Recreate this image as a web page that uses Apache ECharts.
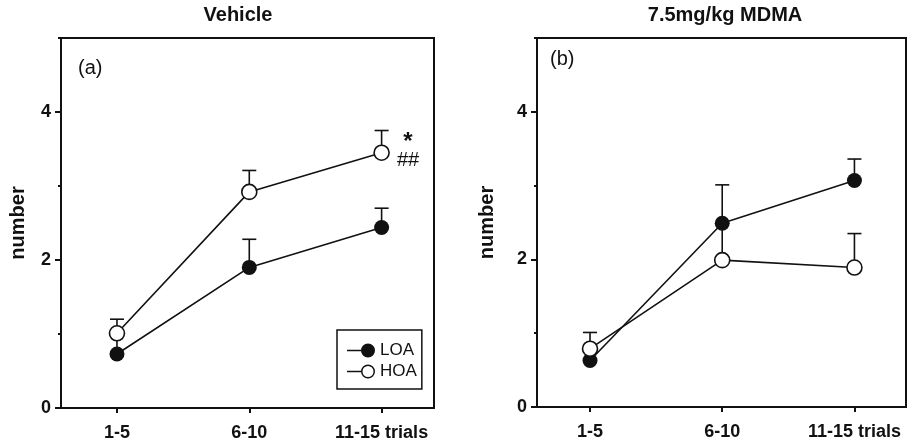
<!DOCTYPE html>
<html><head><meta charset="utf-8">
<script src="https://cdn.jsdelivr.net/npm/echarts@6/dist/echarts.min.js"></script>
<style>html,body{margin:0;padding:0;background:#fff}#c{width:910px;height:444px}</style>
</head><body><div id="c"></div>
<script>
// ---------- data ----------
const categories = ['1-5', '6-10', '11-15 trials'];
const catX = [1, 2, 3];
const panelTitles = ['Vehicle', '7.5mg/kg MDMA'];
const panelTags = ['(a)', '(b)'];
const seriesNames = ['LOA', 'HOA'];
const yMajorTicks = [0, 2, 4];
const yMinorTicks = [1, 3, 5];
const vehicleLOA = [0.73, 1.90, 2.44];
const vehicleLOAErr = [0.28, 0.38, 0.26];
const vehicleHOA = [1.01, 2.92, 3.45];
const vehicleHOAErr = [0.19, 0.29, 0.30];
const mdmaLOA = [0.63, 2.49, 3.07];
const mdmaLOAErr = [0.16, 0.52, 0.29];
const mdmaHOA = [0.79, 1.99, 1.89];
const mdmaHOAErr = [0.22, 0.50, 0.46];
const significance = ['*', '##'];

// ---------- chart ----------
const FONT = '"Liberation Sans", Arial, sans-serif';
const INK = '#111';
function pts(vals) { return vals.map((v, i) => [catX[i], v]); }
function errs(vals, e) { return vals.map((v, i) => [catX[i], v, v + e[i]]); }
function renderErr(params, api) {
  const x = api.value(0), y = api.value(1), t = api.value(2);
  const a = api.coord([x, y]), b = api.coord([x, t]);
  const st = { stroke: INK, lineWidth: 1.6 };
  return { type: 'group', children: [
    { type: 'line', shape: { x1: a[0], y1: a[1], x2: b[0], y2: b[1] }, style: st },
    { type: 'line', shape: { x1: b[0] - 7, y1: b[1], x2: b[0] + 7, y2: b[1] }, style: st }
  ]};
}

const panels = [
  { grid: { left: 61, top: 38, width: 373, height: 370 }, xMin: 0.577, xMax: 3.396, nameGap: 33,
    loa: vehicleLOA, loaErr: vehicleLOAErr, hoa: vehicleHOA, hoaErr: vehicleHOAErr, sig: true },
  { grid: { left: 537, top: 38, width: 369, height: 369 }, xMin: 0.599, xMax: 3.39, nameGap: 40,
    loa: mdmaLOA, loaErr: mdmaLOAErr, hoa: mdmaHOA, hoaErr: mdmaHOAErr, sig: false }
];

const grid = [], xAxis = [], yAxis = [], series = [];
panels.forEach((p, i) => {
  grid.push(Object.assign({ show: true, borderColor: INK, borderWidth: 2, backgroundColor: 'transparent' }, p.grid));
  xAxis.push({
    type: 'value', gridIndex: i, min: p.xMin, max: p.xMax,
    axisLine: { show: true, lineStyle: { color: INK, width: 2 } },
    axisTick: { show: true, customValues: catX, length: 5, lineStyle: { color: INK, width: 2 } },
    axisLabel: { customValues: catX, formatter: v => categories[catX.indexOf(v)], margin: 16,
      fontSize: 18, fontWeight: 'bold', color: INK, fontFamily: FONT },
    splitLine: { show: false }
  });
  yAxis.push({
    type: 'value', gridIndex: i, min: 0, max: 5, interval: 1, position: 'left',
    name: 'number', nameLocation: 'middle', nameGap: p.nameGap,
    nameTextStyle: { fontSize: 20, fontWeight: 'bold', color: INK, fontFamily: FONT },
    axisLine: { show: true, lineStyle: { color: INK, width: 2 } },
    axisTick: { show: true, customValues: yMajorTicks, length: 6, lineStyle: { color: INK, width: 2 } },
    axisLabel: { customValues: yMajorTicks, margin: 10, fontSize: 18, fontWeight: 'bold', color: INK, fontFamily: FONT },
    splitLine: { show: false }
  });
  yAxis.push({
    type: 'value', gridIndex: i, min: 0, max: 5, interval: 1, position: 'left', offset: 0,
    axisLine: { show: false },
    axisTick: { show: true, customValues: yMinorTicks, length: 3, lineStyle: { color: INK, width: 2 } },
    axisLabel: { show: false }, splitLine: { show: false }
  });
  const yi = i * 2;
  series.push({ type: 'custom', name: seriesNames[0], xAxisIndex: i, yAxisIndex: yi, z: 1, silent: true,
    renderItem: renderErr, encode: { x: 0, y: [1, 2] }, data: errs(p.loa, p.loaErr) });
  series.push({ type: 'custom', name: seriesNames[1], xAxisIndex: i, yAxisIndex: yi, z: 1, silent: true,
    renderItem: renderErr, encode: { x: 0, y: [1, 2] }, data: errs(p.hoa, p.hoaErr) });
  series.push({ type: 'line', name: seriesNames[0], xAxisIndex: i, yAxisIndex: yi, z: 3, silent: true,
    data: pts(p.loa), symbol: 'circle', symbolSize: 15, showAllSymbol: true,
    lineStyle: { color: INK, width: 1.6 }, itemStyle: { color: INK }, emphasis: { disabled: true } });
  const hoaItems = pts(p.hoa).map((d, k) => (p.sig && k === catX.length - 1) ? {
    value: d,
    label: { show: true, position: 'right', distance: 7, offset: [0, -1],
      formatter: '{s|' + significance[0] + '}\n{h|' + significance[1] + '}',
      rich: {
        s: { fontSize: 24, fontWeight: 'bold', color: INK, fontFamily: FONT, lineHeight: 18, align: 'center' },
        h: { fontSize: 20, color: INK, fontFamily: FONT, lineHeight: 18, align: 'center' }
      } }
  } : d);
  series.push({ type: 'line', name: seriesNames[1], xAxisIndex: i, yAxisIndex: yi, z: 4, silent: true,
    data: hoaItems, symbol: 'circle', symbolSize: 15, showAllSymbol: true,
    lineStyle: { color: INK, width: 1.6 }, itemStyle: { color: '#fff', borderColor: INK, borderWidth: 1.6 },
    emphasis: { disabled: true } });
});

const titleStyle = { fontSize: 20, fontWeight: 'bold', color: INK, fontFamily: FONT };
const tagStyle = { fontSize: 20, fontWeight: 'normal', color: INK, fontFamily: FONT };

const loaIcon = 'path://M0 6.25H15V7.75H0Z M14 7A7 7 0 1 1 28 7A7 7 0 1 1 14 7Z';
const hoaIcon = 'path://M0 6.25H14.5V7.75H0Z M14 7A7 7 0 1 1 28 7A7 7 0 1 1 14 7Z M15.5 7A5.5 5.5 0 1 0 26.5 7A5.5 5.5 0 1 0 15.5 7Z';

const option = {
  animation: false,
  backgroundColor: '#fff',
  title: [
    { text: panelTitles[0], left: 238, top: 5, textAlign: 'center', padding: 0, textStyle: titleStyle },
    { text: panelTitles[1], left: 725, top: 5, textAlign: 'center', padding: 0, textStyle: titleStyle },
    { text: panelTags[0], left: 78, top: 58, padding: 0, textStyle: tagStyle },
    { text: panelTags[1], left: 550, top: 49, padding: 0, textStyle: tagStyle }
  ],
  legend: {
    left: 337, top: 330, orient: 'vertical', padding: [12, 5, 9, 10], itemGap: 4,
    itemWidth: 28, itemHeight: 14, borderColor: INK, borderWidth: 1.5, borderRadius: 0,
    selectedMode: false,
    textStyle: { fontSize: 17, color: INK, fontFamily: FONT, lineHeight: 17 },
    data: [
      { name: seriesNames[0], icon: loaIcon, itemStyle: { color: INK, borderWidth: 0 } },
      { name: seriesNames[1], icon: hoaIcon, itemStyle: { color: INK, borderWidth: 0 } }
    ]
  },
  grid, xAxis, yAxis, series
};

const chart = echarts.init(document.getElementById('c'), null, { renderer: 'canvas' });
chart.setOption(option);
</script>
</body></html>
